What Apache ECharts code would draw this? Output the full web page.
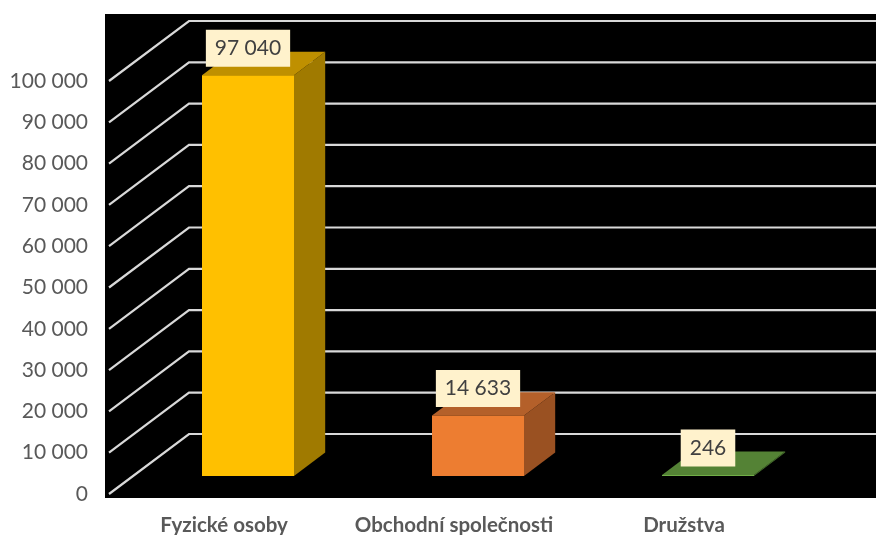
<!DOCTYPE html>
<html>
<head>
<meta charset="utf-8">
<script src="https://cdn.jsdelivr.net/npm/echarts@6/dist/echarts.min.js"></script>
<style>
  html, body { margin: 0; padding: 0; background: #ffffff; }
  #chart { width: 876px; height: 535px; }
</style>
</head>
<body>
<div id="chart"></div>
<script>
// ---- data ----
const categories = ['Fyzické osoby', 'Obchodní společnosti', 'Družstva'];
const values = [97040, 14633, 246];
const yTicks = [0, 10000, 20000, 30000, 40000, 50000, 60000, 70000, 80000, 90000, 100000];

// ---- style ----
const faceColors = [
  { front: '#FFC000', top: '#BF9000', side: '#A07A00' },
  { front: '#ED7D31', top: '#B4602A', side: '#9A5122' },
  { front: '#70AD47', top: '#548235', side: '#4A742F' }
];
const DEPTH_X = 80, DEPTH_Y = -60;   // wall depth (perspective offset)
const F1 = 0.30, F2 = 0.69;          // bar front/back depth fractions
const fmt = v => String(v).replace(/\B(?=(\d{3})+(?!\d))/g, ' ');

const chart = echarts.init(document.getElementById('chart'), null, { renderer: 'canvas' });

const option = {
  backgroundColor: '#ffffff',
  animation: false,
  graphic: [{
    type: 'rect', z: -10, silent: true,
    shape: { x: 105, y: 14, width: 771, height: 484 },
    style: { fill: '#000000' }
  }],
  grid: { left: 109, top: 81, width: 690, height: 413, outerBoundsMode: 'none', containLabel: false },
  xAxis: {
    type: 'category',
    data: categories,
    axisLine: { show: false },
    axisTick: { show: false },
    splitLine: { show: false },
    axisLabel: {
      color: '#595959', fontSize: 20.5, fontWeight: 'bold',
      fontFamily: 'Lato', margin: 21, interval: 0
    }
  },
  yAxis: {
    type: 'value',
    min: 0, max: 100000, interval: 10000,
    axisLine: { show: false },
    axisTick: { show: false },
    splitLine: { show: false },
    axisLabel: {
      color: '#595959', fontSize: 21, fontFamily: 'Lato', margin: 21,
      formatter: v => fmt(v)
    }
  },
  series: [
    {
      type: 'custom',
      name: 'grid',
      silent: true,
      z: 1,
      data: yTicks.map(v => [0, v]),
      renderItem: function (params, api) {
        const cs = params.coordSys;
        const y = api.coord([0, api.value(1)])[1];
        const x0 = cs.x;
        return {
          type: 'polyline',
          shape: { points: [[x0, y], [x0 + DEPTH_X, y + DEPTH_Y], [api.getWidth(), y + DEPTH_Y]] },
          style: { stroke: '#D9D9D9', lineWidth: 2.2, fill: null }
        };
      }
    },
    {
      type: 'custom',
      name: 'bars',
      z: 2,
      data: values.map((v, i) => [i, v]),
      renderItem: function (params, api) {
        const idx = api.value(0);
        const val = api.value(1);
        const base = api.coord([idx, 0]);
        const top = api.coord([idx, val]);
        const hw = api.size([1, 0])[0] * 0.2;
        const fx = DEPTH_X * F1, fy = DEPTH_Y * F1;
        const bx = DEPTH_X * F2, by = DEPTH_Y * F2;
        const xl = base[0] - hw, xr = base[0] + hw;
        const y0 = base[1], y1 = Math.min(top[1], base[1] - 1);
        const c = faceColors[idx];
        return {
          type: 'group',
          children: [
            { type: 'polygon', shape: { points: [[xr + fx, y1 + fy], [xr + bx, y1 + by], [xr + bx, y0 + by], [xr + fx, y0 + fy]] },
              style: { fill: c.side } },
            { type: 'polygon', shape: { points: [[xl + fx, y1 + fy], [xr + fx, y1 + fy], [xr + bx, y1 + by], [xl + bx, y1 + by]] },
              style: { fill: c.top } },
            { type: 'rect', shape: { x: xl + fx, y: y1 + fy, width: xr - xl, height: y0 - y1 },
              style: { fill: c.front } },
            { type: 'text', z2: 10,
              style: {
                text: fmt(val), x: base[0] + fx, y: y1 + fy - 27,
                align: 'center', verticalAlign: 'middle',
                fill: '#404040', fontSize: 21, fontFamily: 'Lato', lineHeight: 25,
                backgroundColor: '#FFF2CC', padding: [6, 9, 6, 9]
              } }
          ]
        };
      }
    }
  ]
};
chart.setOption(option);
</script>
</body>
</html>
